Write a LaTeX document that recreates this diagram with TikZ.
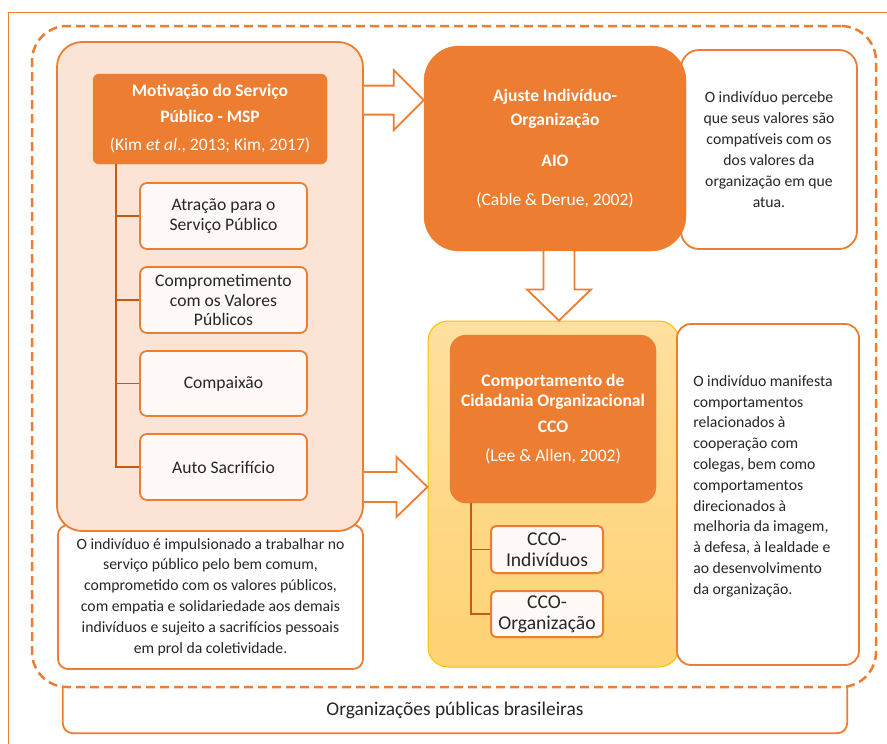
\documentclass[tikz,border=0pt]{standalone}
\usepackage{fontspec}
\setmainfont{Carlito}
\usetikzlibrary{calc}
\definecolor{org}{HTML}{ED7D31}
\definecolor{peach}{HTML}{FBE4D5}
\definecolor{stemc}{HTML}{C55A11}
\definecolor{ink}{HTML}{262626}
\definecolor{subfill}{HTML}{FFFAF7}
\definecolor{gold}{HTML}{FFC000}
\definecolor{ytop}{HTML}{FFE09F}
\definecolor{ybot}{HTML}{FFD273}
\begin{document}
\begin{tikzpicture}[x=1pt,y=-1pt,
  box/.style={rectangle, draw=org, line width=1.8pt, inner sep=0pt, text=ink},
  head/.style={rectangle, fill=org, draw=org, text=white, align=center, inner sep=0pt},
  subbox/.style={rectangle, draw=org, fill=subfill, line width=1.8pt, rounded corners=7pt,
    minimum width=167pt, minimum height=66pt, align=center, text=ink, inner sep=0pt,
    font=\fontsize{17.6}{19.5}\selectfont},
  ccosub/.style={rectangle, draw=org, fill=subfill, line width=2pt, rounded corners=5pt,
    minimum width=112pt, minimum height=47pt, align=center, text=ink, inner sep=0pt,
    font=\fontsize{19.6}{21}\selectfont},
  conn/.style={draw=stemc, line width=1.8pt},
  blockarrow/.style={draw=org, fill=white, line width=1.8pt, line join=miter},
  desc/.style={font=\fontsize{15.7}{20.8}\selectfont, text=ink, align=center}
]
\useasboundingbox (0,0) rectangle (887,744);
\fill[white] (0,0) rectangle (887,744);
% outer thin frame (top and left sides visible)
\coordinate (frameTL) at (8,12);
\draw[org, line width=1pt] (frameTL |- 0,744) -- (frameTL) -- (887,12);

% bottom label box
\node[text=ink, font=\fontsize{19.4}{22}\selectfont, minimum width=784pt, minimum height=46pt, inner sep=0pt] (orgs) at (455,710) {Organizações públicas brasileiras};
\draw[org, line width=1.8pt, rounded corners=10pt] (orgs.north west) -- (orgs.south west) -- (orgs.south east) -- (orgs.north east);

% dashed region
\node[draw=org, line width=2.5pt, dash pattern=on 9pt off 5pt, rounded corners=35pt, minimum width=844pt, minimum height=661pt, inner sep=0pt] (region) at (454,356.5) {};

% left column
\node[box, fill=white, rounded corners=10pt, minimum width=305pt, minimum height=144pt, desc] (desc1) at (210.5,597)
 {O indivíduo é impulsionado a trabalhar no\\serviço público pelo bem comum,\\comprometido com os valores públicos,\\com empatia e solidariedade aos demais\\indivíduos e sujeito a sacrifícios pessoais\\em prol da coletividade.};
\node[box, fill=peach, rounded corners=25pt, minimum width=306pt, minimum height=489pt] (left) at (210,286.5) {};
\node[head, rounded corners=6pt, minimum width=234pt, minimum height=90pt, font=\fontsize{17.5}{26}\selectfont] (msp) at (210,119)
 {\textbf{Motivação do Serviço}\\\textbf{Público - MSP}\\[2pt](Kim \textit{et al}., 2013; Kim, 2017)};
\node[subbox] (a1) at (223.5,216) {Atração para o\\Serviço Público};
\node[subbox] (a2) at (223.5,300) {Comprometimento\\com os Valores\\Públicos};
\node[subbox, minimum height=65pt] (a3) at (223.5,383.5) {Compaixão};
\node[subbox] (a4) at (223.5,467) {Auto Sacrifício};
\coordinate (mspstem) at ($(msp.south west)+(23,0)$);
\draw[conn] (mspstem) |- (a4.west);
\draw[conn] (a1.west) -- (a1.west -| mspstem);
\draw[conn] (a2.west) -- (a2.west -| mspstem);
\draw[conn] (a3.west) -- (a3.west -| mspstem);

% AIO
\node[box, fill=white, rounded corners=18pt, minimum width=176pt, minimum height=199pt, desc, font=\fontsize{15.7}{21.1}\selectfont] (aiod) at (769,149.5)
 {O indivíduo percebe\\que seus valores são\\compatíveis com os\\dos valores da\\organização em que\\atua.};
\node[head, rounded corners=35pt, minimum width=262pt, minimum height=205pt, font=\fontsize{17.5}{24}\selectfont] (aio) at (555,148.5)
 {\textbf{Ajuste Indivíduo-}\\\textbf{Organização}\\[17pt]\textbf{AIO}\\[15pt](Cable \& Derue, 2002)};

% CCO
\node[rectangle, draw=gold, line width=1pt, top color=ytop, bottom color=ybot, rounded corners=20pt, minimum width=251pt, minimum height=346pt, inner sep=0pt] (ccobox) at (553.5,494) {};
\node[box, fill=white, rounded corners=14pt, minimum width=182pt, minimum height=341pt] (ccod) at (768,494.5) {};
\node[desc, align=left, anchor=north west, inner sep=0pt] (ccot) at ($(ccod.north west)+(17,52)$)
 {O indivíduo manifesta\\comportamentos\\relacionados à\\cooperação com\\colegas, bem como\\comportamentos\\direcionados à\\melhoria da imagem,\\à defesa, à lealdade e\\ao desenvolvimento\\da organização.};
\node[head, rounded corners=16pt, minimum width=206pt, minimum height=168pt, font=\fontsize{17.6}{20}\selectfont] (ccoh) at (553,419)
 {\textbf{Comportamento de}\\\textbf{Cidadania Organizacional}\\[6pt]\textbf{CCO}\\[9pt](Lee \& Allen, 2002)};
\node[ccosub] (c1) at (547,549.5) {CCO-\\Indivíduos};
\node[ccosub, minimum height=46pt] (c2) at (547,614) {CCO-\\Organização};
\coordinate (ccostem) at ($(ccoh.south west)+(21,0)$);
\draw[conn] (ccostem) |- (c2.west);
\draw[conn] (c1.west) -- (c1.west -| ccostem);

% block arrows
\coordinate (s1) at ($(left.north east)+(0,59)$);
\coordinate (t1) at (aio.west |- s1);
\draw[blockarrow] ($(s1)+(0,-14.5)$) -- ($(t1)+(-30,-14.5)$) -- ($(t1)+(-30,-30)$) -- (t1) -- ($(t1)+(-30,30)$) -- ($(t1)+(-30,14.5)$) -- ($(s1)+(0,14.5)$);
\coordinate (s2) at ($(left.south east)+(0,-45)$);
\coordinate (t2) at (ccobox.west |- s2);
\draw[blockarrow] ($(s2)+(0,-15)$) -- ($(t2)+(-31,-15)$) -- ($(t2)+(-31,-30)$) -- (t2) -- ($(t2)+(-31,30)$) -- ($(t2)+(-31,15)$) -- ($(s2)+(0,15)$);
\coordinate (s3) at ($(aio.south)+(4,0)$);
\coordinate (t3) at (s3 |- ccobox.north);
\draw[blockarrow] ($(s3)+(-15.5,0)$) -- ($(t3)+(-15.5,-31)$) -- ($(t3)+(-32,-31)$) -- (t3) -- ($(t3)+(32,-31)$) -- ($(t3)+(15.5,-31)$) -- ($(s3)+(15.5,0)$);
\end{tikzpicture}
\end{document}
